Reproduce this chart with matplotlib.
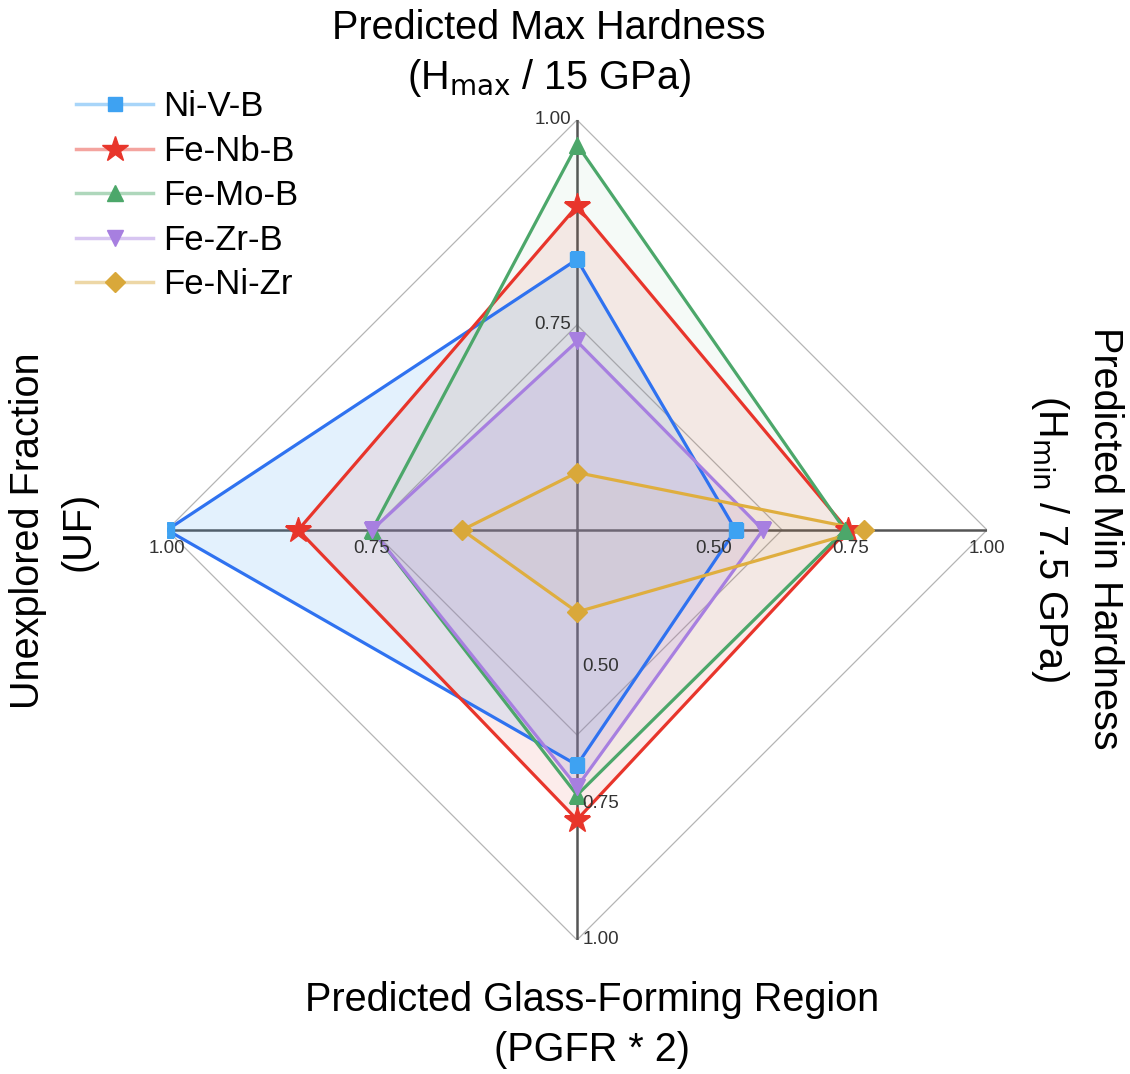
import numpy as np
import matplotlib
matplotlib.use("Agg")
import matplotlib.pyplot as plt
from matplotlib.lines import Line2D
from matplotlib.colors import to_rgba

plt.rcParams['font.family'] = ['Liberation Sans', 'DejaVu Sans']

# axes: top, right, bottom, left
ranges = [(0.5, 1.0), (0.25, 1.0), (0.25, 1.0), (0.5, 1.0)]

names = ["Ni-V-B", "Fe-Nb-B", "Fe-Mo-B", "Fe-Zr-B", "Fe-Ni-Zr"]
ni_v_b = [0.83, 0.54, 0.68, 1.00]
fe_nb_b = [0.895, 0.745, 0.78, 0.84]
fe_mo_b = [0.97, 0.74, 0.735, 0.75]
fe_zr_b = [0.73, 0.59, 0.72, 0.75]
fe_ni_zr = [0.57, 0.775, 0.40, 0.64]
series = [ni_v_b, fe_nb_b, fe_mo_b, fe_zr_b, fe_ni_zr]

line_cols = ['#2f72f0', '#e8352b', '#4ca76a', '#a77fe0', '#dfae3f']
mark_cols = ['#3ea2f2', '#e8352b', '#4ca76a', '#a77fe0', '#d9a83a']
fill_alpha = [0.14, 0.09, 0.05, 0.16, 0.05]
markers = ['s', '*', '^', 'v', 'D']
msizes = [10, 19, 11, 11, 10]


def scale(vals):
    # map each value into 0..1 on its own axis range
    return [(v - lo) / (hi - lo) for v, (lo, hi) in zip(vals, ranges)]


angles = np.array([0, np.pi / 2, np.pi, 3 * np.pi / 2])
ang_closed = np.append(angles, angles[0])

fig = plt.figure(figsize=(11.3, 10.74), dpi=100)
ax = fig.add_axes([0.1478, 0.1248, 0.7257, 0.7635], projection='polar')
ax.set_theta_offset(np.pi / 2)
ax.set_theta_direction(-1)
ax.set_ylim(0, 1)
ax.grid(False)
ax.spines['polar'].set_visible(False)
ax.set_xticks([])
ax.set_yticks([])

# diamond grid and spokes
for rr in [0.5, 1.0]:
    ax.plot(ang_closed, [rr] * 5, color='#b5b5b5', lw=0.9, zorder=1)
for a in angles:
    ax.plot([a, a], [0, 1], color='#555555', lw=1.8, zorder=2)

for vals, lc, mc, fa, m, ms in zip(series, line_cols, mark_cols, fill_alpha, markers, msizes):
    r = scale(vals)
    r = r + r[:1]
    ax.fill(ang_closed, r, color=mc, alpha=fa, lw=0, zorder=3)
    ax.plot(ang_closed, r, color=lc, lw=2.3, zorder=4)
    ax.plot(angles, r[:-1], ls='none', marker=m, ms=ms, color=mc, zorder=5)

# tick labels on each axis
offsets = [(-4, 0, 'right', 'center'), (0, -7, 'center', 'top'),
           (4, 0, 'left', 'center'), (0, -7, 'center', 'top')]
for a, (lo, hi), (dx, dy, ha, va) in zip(angles, ranges, offsets):
    ticks = np.arange(lo + 0.25, hi + 0.001, 0.25)
    for t in ticks:
        ax.annotate(f"{t:.2f}", xy=(a, (t - lo) / (hi - lo)), xytext=(dx, dy),
                    textcoords='offset points', ha=ha, va=va,
                    fontsize=13.5, color='#333333', zorder=6)

# axis titles
fs = 28.5
fig.text(549 / 1130, 1 - 28 / 1074, "Predicted Max Hardness", ha='center', va='center', fontsize=fs)
fig.text(549 / 1130, 1 - 78 / 1074, r"(H$_{\mathrm{max}}$ / 15 GPa)", ha='center', va='center', fontsize=fs)
fig.text(1105 / 1130, 1 - 538 / 1074, "Predicted Min Hardness", ha='center', va='center',
         fontsize=fs, rotation=-90)
fig.text(1050 / 1130, 1 - 538 / 1074, r"(H$_{\mathrm{min}}$ / 7.5 GPa)", ha='center', va='center',
         fontsize=fs, rotation=-90)
fig.text(592 / 1130, 1 - 1000 / 1074, "Predicted Glass-Forming Region", ha='center', va='center', fontsize=fs)
fig.text(592 / 1130, 1 - 1050 / 1074, "(PGFR * 2)", ha='center', va='center', fontsize=fs)
fig.text(28 / 1130, 1 - 531 / 1074, "Unexplored Fraction", ha='center', va='center',
         fontsize=fs, rotation=90)
fig.text(78 / 1130, 1 - 531 / 1074, "(UF)", ha='center', va='center', fontsize=fs, rotation=90)

handles = [Line2D([], [], color=to_rgba(mc, 0.45), lw=2.5, marker=m, ms=ms,
                  markerfacecolor=mc, markeredgecolor=mc)
           for mc, m, ms in zip(mark_cols, markers, msizes)]
fig.legend(handles, names, loc='upper left', bbox_to_anchor=(0.04, 0.945),
           frameon=False, fontsize=25, handlelength=2.2, labelspacing=0.33,
           handletextpad=0.3)

fig.savefig("out.png", dpi=100)
